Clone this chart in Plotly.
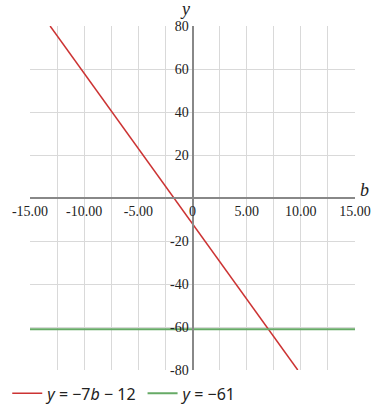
import plotly.graph_objects as go
import numpy as np

# data
b_range = [-15, 15]
y_range = [-80, 80]
slope = -7
intercept = -12
const_y = -61
x_tickvals = [-15, -12.5, -10, -7.5, -5, -2.5, 0, 2.5, 5, 7.5, 10, 12.5, 15]
x_ticktext = ["-15.00", "", "-10.00", "", "-5.00", "", "0", "", "5.00", "", "10.00", "", "15.00"]
y_tickvals = [-80, -60, -40, -20, 0, 20, 40, 60, 80]
y_ticktext = ["-80", "-60", "-40", "-20", "", "20", "40", "60", "80"]
legend_names = ["<i>y</i> = −7<i>b</i> − 12", "<i>y</i> = −61"]

# red line clipped to y-range
b1 = (y_range[1] - intercept) / slope
b2 = (y_range[0] - intercept) / slope
bx = [b1, b2]
by = [slope * v + intercept for v in bx]

fig = go.Figure()
fig.add_trace(go.Scatter(x=bx, y=by, mode="lines", name=legend_names[0],
                         line=dict(color="#cc3333", width=1.5)))
fig.add_trace(go.Scatter(x=b_range, y=[const_y, const_y], mode="lines", name=legend_names[1],
                         line=dict(color="#66aa66", width=2)))

tickfont = dict(family="Liberation Serif", size=14, color="#222")
fig.update_layout(
    width=384, height=408,
    margin=dict(l=30, r=29, t=26, b=38, autoexpand=False),
    plot_bgcolor="white", paper_bgcolor="white",
    showlegend=True,
    legend=dict(orientation="h", x=-0.07, xanchor="left", y=-0.068, yanchor="middle",
                font=dict(family="Noto Sans", size=16, color="#222"),
                itemwidth=30, tracegroupgap=0),
    xaxis=dict(range=b_range, tickvals=x_tickvals, ticktext=x_ticktext,
               showgrid=True, gridcolor="#d9d9d9", gridwidth=1,
               zeroline=False, showline=True, linecolor="#888", linewidth=2,
               anchor="free", position=0.5, ticks="", tickfont=tickfont),
    yaxis=dict(range=y_range, tickvals=y_tickvals, ticktext=y_ticktext,
               showgrid=True, gridcolor="#d9d9d9", gridwidth=1,
               zeroline=False, showline=True, linecolor="#888", linewidth=2,
               anchor="free", position=0.5, ticks="", tickfont=tickfont),
    annotations=[
        dict(x=15, y=0, xref="x", yref="y", text="<i>b</i>", showarrow=False,
             xanchor="left", yanchor="bottom", xshift=3, yshift=-4,
             font=dict(family="Liberation Serif", size=18, color="#222")),
        dict(x=0, y=80, xref="x", yref="y", text="<i>y</i>", showarrow=False,
             xanchor="center", yanchor="bottom", xshift=-8, yshift=5,
             font=dict(family="Liberation Serif", size=18, color="#222")),
    ],
)

fig.write_html("out.html")
